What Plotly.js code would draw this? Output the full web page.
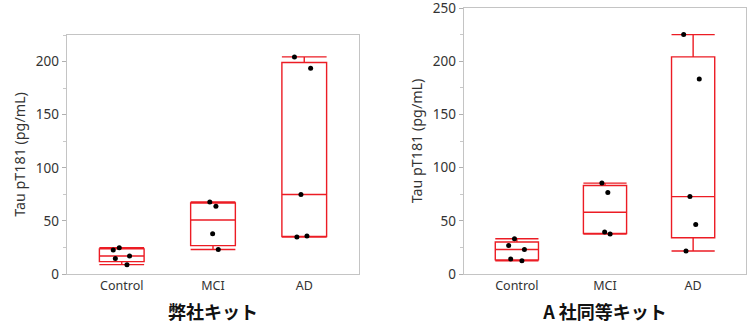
<!DOCTYPE html>
<html>
<head>
<meta charset="utf-8">
<script src="https://cdn.plot.ly/plotly-3.0.1.min.js"></script>
<style>html,body{margin:0;padding:0;background:#fff}#chart{width:751px;height:325px}</style>
</head>
<body>
<div id="chart"></div>
<script>
// Categories
const categories = ['Control', 'MCI', 'AD'];

// Panel 1: 弊社キット
const ourKitControl = [8.8, 14.5, 17.0, 22.6, 24.8];
const ourKitMCI = [23.0, 38.0, 63.8, 67.9];
const ourKitAD = [34.9, 35.8, 74.8, 193.7, 204.4];

// Panel 2: A 社同等キット
const compKitControl = [12.5, 14.1, 23.1, 26.9, 33.2];
const compKitMCI = [37.6, 39.5, 76.7, 85.5];
const compKitAD = [21.6, 46.6, 72.8, 183.3, 225.2];

const panelTitles = ['弊社キット', 'A 社同等キット'];
const yTitle = 'Tau pT181 (pg/mL)';
const yTicks1 = [0, 50, 100, 150, 200];
const yTicks2 = [0, 50, 100, 150, 200, 250];

// Quantiles using the (n+1)p method
function quantile(arr, p) {
  const s = arr.slice().sort((a, b) => a - b);
  const n = s.length;
  const pos = (n + 1) * p;
  const lo = Math.floor(pos);
  const frac = pos - lo;
  if (lo < 1) return s[0];
  if (lo >= n) return s[n - 1];
  return s[lo - 1] + frac * (s[lo] - s[lo - 1]);
}
function stats(arr) {
  const q1 = quantile(arr, 0.25), q3 = quantile(arr, 0.75), med = quantile(arr, 0.5);
  const iqr = q3 - q1;
  const inLow = arr.filter(v => v >= q1 - 1.5 * iqr);
  const inHigh = arr.filter(v => v <= q3 + 1.5 * iqr);
  return {q1, q3, med, lo: Math.min(...inLow), hi: Math.max(...inHigh)};
}

const RED = '#ec1c24';
function panelTraces(groups, xa, ya) {
  const st = groups.map(stats);
  const boxTrace = {
    type: 'box', xaxis: xa, yaxis: ya,
    x: categories,
    q1: st.map(s => s.q1), median: st.map(s => s.med), q3: st.map(s => s.q3),
    lowerfence: st.map(s => s.lo), upperfence: st.map(s => s.hi),
    boxpoints: false, whiskerwidth: 1,
    line: {color: RED, width: 1.4},
    fillcolor: 'rgba(255,255,255,0)',
    hoverinfo: 'skip', showlegend: false
  };
  const xs = [], ys = [];
  groups.forEach((g, i) => g.forEach(v => { xs.push(categories[i]); ys.push(v); }));
  const ptsTrace = {
    type: 'box', xaxis: xa, yaxis: ya,
    x: xs, y: ys,
    boxpoints: 'all', jitter: 0.45, pointpos: 0,
    line: {color: 'rgba(0,0,0,0)', width: 0},
    fillcolor: 'rgba(0,0,0,0)',
    marker: {color: '#000', size: 5},
    showlegend: false
  };
  return [boxTrace, ptsTrace];
}

const data = [
  ...panelTraces([ourKitControl, ourKitMCI, ourKitAD], 'x', 'y'),
  ...panelTraces([compKitControl, compKitMCI, compKitAD], 'x2', 'y2')
];

const xTickFont = {family: 'Noto Sans, sans-serif', size: 12.5, color: '#333'};
const yTickFont = {family: 'Noto Sans, sans-serif', size: 13.5, color: '#333'};
const titleFont = {family: 'Noto Sans CJK JP, sans-serif', size: 18, color: '#111', weight: 'bold'};
function xAxis(domain, title, anchor) {
  return {
    domain: domain, anchor: anchor, type: 'category', range: [-0.6, 2.6],
    showline: true, mirror: true, linecolor: '#c4c4c4', linewidth: 1.3,
    ticks: '', showgrid: false, zeroline: false, tickfont: xTickFont,
    title: {text: title, font: titleFont, standoff: 13}
  };
}
function yAxis(domain, range, ticks, anchor) {
  return {
    domain: domain, anchor: anchor, range: range,
    tickmode: 'array', tickvals: ticks, ticklabeloverflow: 'allow',
    showline: true, mirror: true, linecolor: '#c4c4c4', linewidth: 1.3,
    ticks: 'outside', ticklen: 4, tickcolor: '#b0b0b0', tickwidth: 1,
    minor: {dtick: 25, ticks: 'outside', ticklen: 3, tickcolor: '#c8c8c8', showgrid: false},
    showgrid: false, zeroline: false, tickfont: yTickFont,
    title: {text: yTitle, font: {family: 'Noto Sans, sans-serif', size: 14.3, color: '#333'}, standoff: 6}
  };
}

const layout = {
  width: 751, height: 325,
  margin: {l: 0, r: 0, t: 0, b: 0},
  paper_bgcolor: '#fff', plot_bgcolor: '#fff',
  boxmode: 'overlay', showlegend: false,
  xaxis: xAxis([67/751, 359/751], panelTitles[0], 'y'),
  yaxis: yAxis([51/325, 290/325], [0, 225], yTicks1, 'x'),
  xaxis2: xAxis([464/751, 746/751], panelTitles[1], 'y2'),
  yaxis2: yAxis([51/325, 317/325], [0, 250.2], yTicks2, 'x2')
};

Plotly.newPlot('chart', data, layout, {displayModeBar: false, staticPlot: true});
</script>
</body>
</html>
